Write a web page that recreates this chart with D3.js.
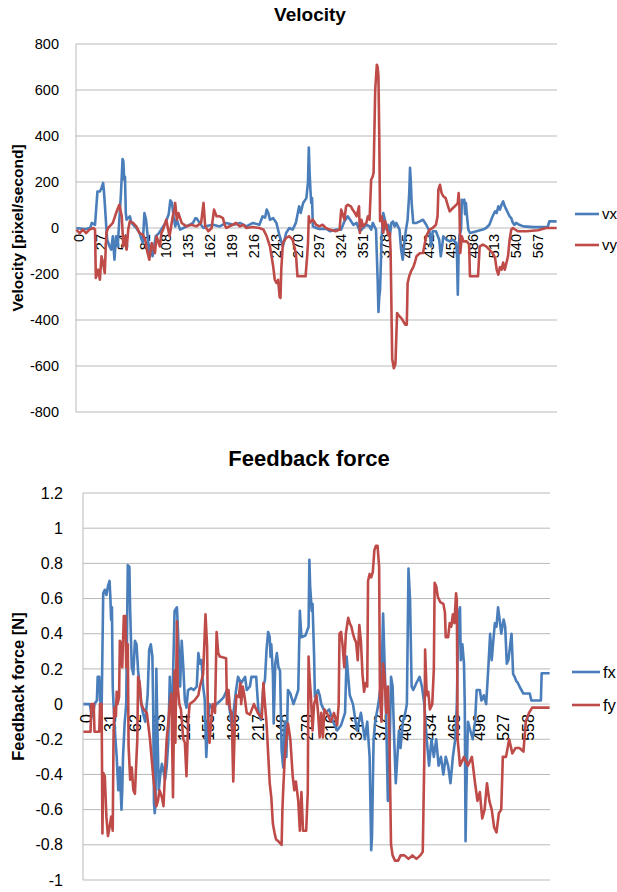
<!DOCTYPE html>
<html>
<head>
<meta charset="utf-8">
<script src="https://cdn.jsdelivr.net/npm/d3@7"></script>
<style>
  html, body { margin: 0; padding: 0; background: #fff; }
  svg { display: block; font-family: "Liberation Sans", Arial, sans-serif; }
</style>
</head>
<body>
<svg id="chart" width="617" height="892"></svg>
<script>
// ---------------- DATA ----------------
// Velocity chart: sample index -> value (pixel/second)
const velocityCount = 594;
const velocityXTicks = d3.range(0, 594, 27);
const velocityYTicks = [-800, -600, -400, -200, 0, 200, 400, 600, 800];
const vx = [[0,0],[10,-5],[17,0],[19,22],[23,14],[26,159],[29,159],[31,174],[33,196],[34,160],[35,109],[37,0],[38,-51],[41,-80],[43,-94],[45,-36],[47,-138],[49,-36],[51,-80],[53,36],[55,150],[57,300],[58,290],[59,210],[60,223],[61,65],[62,36],[66,51],[68,22],[74,0],[78,-22],[82,-65],[84,65],[86,36],[88,-36],[90,-109],[92,-94],[94,-123],[96,-80],[98,-36],[102,-22],[106,0],[110,22],[114,60],[116,120],[118,110],[120,51],[122,7],[124,36],[128,-7],[132,0],[140,15],[144,22],[147,43],[149,40],[152,22],[157,0],[162,10],[169,14],[177,7],[185,22],[194,14],[202,22],[210,7],[218,22],[226,14],[230,51],[233,45],[235,80],[237,65],[239,36],[243,43],[247,22],[251,-36],[255,-80],[259,-22],[263,0],[267,-7],[271,22],[275,94],[277,65],[280,109],[284,130],[286,200],[287,350],[288,240],[289,167],[290,109],[291,130],[292,7],[296,0],[300,-4],[309,-4],[313,-14],[321,-7],[327,-7],[331,29],[335,51],[338,36],[342,14],[346,22],[350,-14],[354,0],[358,14],[362,7],[364,-7],[366,22],[370,-7],[372,-225],[373,-365],[374,-300],[375,-268],[377,-36],[379,65],[381,36],[383,-7],[385,14],[387,-36],[389,22],[391,29],[393,7],[395,22],[399,-7],[401,-94],[403,-138],[405,-65],[407,-7],[409,36],[411,150],[412,262],[413,200],[414,109],[416,22],[420,22],[424,29],[428,36],[432,14],[436,-14],[438,-80],[440,-14],[444,-14],[448,-51],[450,-123],[452,-70],[453,-36],[457,-51],[461,-58],[465,-51],[469,-65],[470,-120],[471,-290],[472,-109],[473,-36],[475,-7],[476,123],[477,109],[479,123],[480,60],[481,109],[482,65],[484,-7],[486,-22],[494,-14],[502,-7],[506,0],[510,14],[514,51],[517,72],[519,65],[521,94],[523,80],[525,101],[527,116],[529,94],[531,80],[533,65],[535,51],[537,43],[539,22],[541,14],[543,22],[547,14],[552,7],[565,4],[582,4],[584,29],[593,29]];
const vy = [[0,-7],[4,-22],[8,-7],[12,-22],[16,-7],[21,0],[23,-7],[24,-217],[27,-181],[29,-225],[31,-123],[33,-152],[35,-196],[37,-22],[39,0],[41,7],[45,22],[49,65],[53,101],[56,51],[58,-80],[60,-36],[62,-94],[64,-7],[66,29],[70,22],[74,7],[78,-22],[82,-29],[85,-51],[87,-94],[90,-138],[93,-65],[97,-109],[99,-36],[103,-80],[105,-22],[107,-7],[111,36],[115,-36],[119,51],[121,80],[122,109],[124,36],[126,65],[130,22],[136,7],[142,14],[148,7],[154,22],[157,109],[159,7],[163,-14],[167,0],[170,80],[173,51],[177,51],[181,43],[183,14],[185,0],[193,14],[197,22],[202,7],[206,14],[210,0],[218,4],[226,0],[231,-7],[235,-36],[239,-80],[243,-167],[245,-225],[247,-239],[249,-225],[251,-300],[252,-304],[253,-181],[255,-65],[259,-43],[263,-36],[267,-51],[271,-109],[273,-210],[283,-210],[285,-120],[286,-65],[287,51],[288,22],[292,36],[296,14],[300,7],[304,14],[308,0],[313,-7],[320,-14],[325,-7],[327,80],[329,58],[331,36],[333,94],[335,101],[339,94],[341,80],[344,65],[346,51],[349,94],[350,-22],[352,36],[354,7],[358,22],[360,51],[362,36],[364,210],[366,225],[367,240],[369,600],[371,710],[372,700],[373,660],[374,400],[375,30],[377,50],[379,-20],[381,30],[383,10],[385,-30],[387,-20],[388,-100],[390,-570],[392,-610],[394,-590],[396,-370],[398,-380],[402,-395],[406,-420],[408,-420],[409,-240],[411,-210],[413,-190],[416,-170],[418,-150],[420,-123],[424,-110],[428,-109],[432,-36],[436,-7],[440,0],[444,14],[446,51],[447,167],[449,188],[451,152],[453,138],[456,130],[459,94],[461,72],[465,87],[469,100],[471,109],[472,152],[473,100],[474,-109],[476,-36],[478,-58],[482,-58],[485,-72],[486,-210],[496,-210],[498,-80],[502,-72],[506,-80],[510,-94],[514,-109],[517,-130],[519,-181],[521,-203],[523,-170],[525,-181],[527,-150],[529,-181],[531,-152],[533,-123],[535,-51],[537,-7],[539,0],[545,-14],[556,-14],[570,-10],[580,0],[593,0]];

// Feedback force chart: sample index -> value (N)
const forceCount = 589;
const forceXTicks = d3.range(0, 589, 31);
const forceYTicks = [-1, -0.8, -0.6, -0.4, -0.2, 0, 0.2, 0.4, 0.6, 0.8, 1, 1.2];
const fx = [[0,0],[8,0],[10,-0.05],[12,-0.07],[14,0],[17,0.02],[18,0.155],[20,0.155],[21,0.02],[23,-0.03],[25,0.63],[27,0.65],[29,0.62],[31,0.67],[33,0.70],[34,0.61],[35,0.48],[36,0.55],[37,0.1],[38,0],[40,-0.17],[42,-0.30],[44,-0.49],[46,-0.36],[48,-0.60],[49,-0.49],[50,-0.30],[52,-0.11],[54,0],[56,0.79],[58,0.78],[59,0.53],[61,0.21],[63,0.17],[65,0.36],[67,0.34],[69,0.19],[71,0.1],[73,0],[75,-0.05],[78,-0.1],[81,0.05],[83,0.31],[85,0.34],[87,0.27],[88,0],[89,-0.56],[90,-0.62],[91,-0.56],[92,0.2],[93,-0.05],[95,-0.49],[97,-0.40],[99,-0.34],[101,-0.38],[103,-0.43],[105,-0.36],[107,-0.22],[109,0.155],[110,0.02],[112,-0.05],[115,0.53],[118,0.55],[120,0.34],[122,0.1],[124,0.36],[126,0.21],[128,0.02],[130,-0.02],[132,0.08],[136,0.09],[139,0.08],[143,0.1],[145,0.29],[147,0.23],[149,0.25],[151,0.1],[153,0.03],[155,-0.30],[157,-0.11],[159,0],[163,-0.03],[168,0],[173,0.02],[177,0.04],[181,0.08],[185,-0.05],[187,-0.13],[189,-0.06],[192,0.06],[195,0.155],[199,0.12],[204,0.155],[206,0.08],[210,0.1],[212,0.155],[218,0.155],[219,0.08],[221,-0.05],[224,-0.09],[227,0.1],[229,0.14],[231,0.31],[233,0.41],[235,0.38],[236,0.27],[237,0.34],[239,0.17],[240,-0.11],[242,0.23],[244,0.29],[246,0.21],[248,0.19],[250,-0.26],[252,-0.36],[254,-0.1],[256,-0.30],[258,0.08],[261,0.06],[265,0.0],[271,0.08],[273,0.53],[275,0.38],[280,0.39],[284,0.44],[285,0.82],[286,0.67],[288,0.53],[289,0.57],[291,0.27],[292,0.04],[294,0.06],[296,0.08],[298,0.05],[300,0.0],[305,-0.05],[310,-0.03],[315,-0.1],[320,-0.15],[325,-0.12],[330,-0.05],[332,0.27],[334,0.155],[336,0.05],[340,0],[345,-0.15],[350,-0.05],[355,-0.2],[358,-0.1],[361,-0.3],[363,-0.83],[364,-0.75],[366,-0.2],[368,-0.1],[372,0],[376,0.14],[378,0.515],[380,0.21],[382,-0.1],[384,-0.55],[386,-0.3],[388,0.155],[390,0.1],[392,-0.2],[394,-0.45],[396,-0.3],[398,-0.15],[400,-0.25],[403,-0.1],[406,-0.05],[408,0.0],[410,0.77],[412,0.59],[414,0.1],[416,0.08],[420,0.12],[424,0.155],[427,0.1],[430,0.0],[433,-0.2],[436,-0.35],[439,-0.2],[442,-0.3],[445,-0.2],[448,-0.35],[451,-0.3],[454,-0.4],[457,-0.3],[460,-0.35],[463,-0.45],[466,-0.3],[469,-0.2],[471,0.0],[473,0.515],[475,0.55],[476,0.25],[478,0.34],[480,0.23],[481,0.0],[482,-0.78],[483,-0.5],[485,-0.1],[488,-0.15],[491,-0.2],[494,-0.1],[496,0.08],[500,0.08],[502,0.02],[505,0.05],[508,0.0],[511,0.23],[513,0.40],[515,0.25],[517,0.36],[519,0.46],[521,0.44],[523,0.55],[525,0.48],[527,0.40],[530,0.48],[532,0.44],[534,0.23],[536,0.25],[540,0.40],[542,0.17],[544,0.155],[546,0.13],[548,0.12],[550,0.1],[555,0.06],[563,0.06],[565,0.02],[577,0.02],[578,0.175],[588,0.175]];
const fy = [[0,-0.157],[9,-0.157],[10,0],[13,0],[14,-0.157],[20,-0.157],[21,0],[23,0],[24,-0.735],[25,-0.39],[27,-0.41],[29,-0.64],[31,-0.75],[33,-0.70],[35,-0.64],[37,-0.72],[38,-0.19],[39,-0.02],[41,-0.07],[42,0.07],[43,0],[45,0.04],[46,0.36],[48,0.34],[49,0.21],[51,0.50],[53,0.50],[54,0.21],[56,0.34],[57,-0.24],[59,-0.43],[61,-0.36],[63,-0.49],[65,-0.51],[67,-0.30],[68,-0.2],[69,0.155],[71,0.12],[73,0],[76,-0.03],[80,-0.05],[84,-0.2],[88,-0.41],[90,-0.49],[92,-0.58],[94,-0.55],[96,-0.49],[99,-0.53],[101,-0.58],[103,-0.39],[105,-0.2],[107,-0.11],[109,0],[111,0.06],[113,-0.53],[115,0.19],[116,-0.22],[118,0.47],[119,0.1],[121,0],[123,-0.03],[126,-0.2],[128,-0.22],[130,-0.41],[132,-0.11],[134,0],[140,0.02],[145,0.05],[147,0.1],[151,0.17],[154,0.51],[156,0.33],[157,-0.05],[159,-0.22],[161,-0.11],[163,0],[166,-0.05],[168,0.41],[170,0.29],[172,0.27],[180,0.26],[181,0.0],[183,0.08],[185,-0.03],[187,-0.05],[189,-0.44],[191,-0.11],[193,0.05],[196,0.04],[198,0.12],[199,0.0],[201,0.1],[203,0.05],[206,-0.05],[210,-0.06],[215,0.0],[220,-0.05],[225,-0.08],[227,0.12],[229,0],[231,-0.11],[233,-0.28],[235,-0.45],[237,-0.53],[239,-0.68],[241,-0.73],[243,-0.77],[246,-0.78],[248,-0.79],[250,-0.80],[251,-0.60],[252,-0.49],[254,-0.3],[256,-0.20],[258,-0.11],[261,-0.2],[264,-0.41],[266,-0.49],[268,-0.44],[271,-0.55],[273,-0.72],[275,-0.50],[277,-0.72],[281,-0.72],[283,-0.5],[284,0.27],[285,0.17],[287,0.04],[289,-0.15],[291,0.0],[294,0.05],[296,-0.05],[298,-0.19],[300,-0.05],[302,-0.19],[304,-0.03],[307,-0.05],[312,-0.1],[316,-0.05],[320,-0.12],[322,0.0],[323,0.40],[325,0.41],[327,0.33],[329,0.21],[331,0.40],[334,0.49],[336,0.46],[338,0.44],[340,0.40],[342,0.37],[344,0.35],[346,0.25],[348,0.45],[350,0.36],[352,0.17],[354,0.07],[356,0.12],[358,0.1],[359,0.70],[361,0.74],[363,0.72],[365,0.75],[367,0.875],[369,0.90],[371,0.90],[373,0.78],[374,0.05],[376,-0.1],[378,0.23],[380,0.15],[382,-0.05],[384,0.1],[386,-0.2],[388,-0.80],[390,-0.86],[393,-0.89],[397,-0.89],[400,-0.86],[405,-0.86],[410,-0.88],[415,-0.86],[420,-0.88],[425,-0.86],[428,-0.84],[430,-0.3],[431,0.31],[433,0.05],[435,0.07],[437,-0.03],[440,0.0],[442,0.2],[443,0.69],[445,0.67],[447,0.61],[450,0.58],[454,0.57],[456,0.52],[457,0.38],[460,0.38],[462,0.46],[464,0.44],[466,0.51],[468,0.46],[470,0.63],[471,0.59],[472,-0.2],[475,-0.35],[480,-0.3],[485,-0.35],[490,-0.3],[494,-0.45],[497,-0.55],[500,-0.5],[503,-0.65],[506,-0.6],[509,-0.45],[512,-0.55],[515,-0.6],[518,-0.7],[521,-0.73],[524,-0.62],[527,-0.6],[529,-0.3],[533,-0.3],[537,-0.2],[541,-0.28],[545,-0.25],[550,-0.25],[555,-0.27],[558,-0.1],[562,-0.05],[566,-0.02],[588,-0.02]];

// ---------------- DRAW ----------------
const BLUE = "#4a7ebb", RED = "#be4b48", GRID = "#b9b9b9";
const svg = d3.select("#chart");

function panel(o) {
  const g = svg.append("g");
  const x = d3.scaleLinear().domain([-0.5, o.count - 0.5]).range([o.left, o.right]);
  const y = d3.scaleLinear().domain([o.yTicks[0], o.yTicks[o.yTicks.length - 1]]).range([o.bottom, o.top]);

  // gridlines
  g.append("g").selectAll("line").data(o.yTicks).join("line")
    .attr("x1", o.left).attr("x2", o.right)
    .attr("y1", d => y(d)).attr("y2", d => y(d))
    .attr("stroke", GRID).attr("stroke-width", 1);
  // vertical axis line
  g.append("line").attr("x1", o.left).attr("x2", o.left).attr("y1", o.top).attr("y2", o.bottom)
    .attr("stroke", GRID).attr("stroke-width", 1);

  // y axis labels
  const ya = g.append("g").attr("transform", `translate(${o.left},0)`)
    .call(d3.axisLeft(y).tickValues(o.yTicks).tickSize(0).tickPadding(o.yPad).tickFormat(d => String(d)));
  ya.select(".domain").remove();
  ya.selectAll("text").attr("font-size", o.tickFont).attr("fill", "#000")
    .attr("font-family", "Liberation Sans, Arial, sans-serif");

  // x axis (category) labels at y = 0
  const xa = g.append("g").attr("transform", `translate(0,${y(0)})`)
    .call(d3.axisBottom(x).tickValues(o.xTicks).tickSize(0).tickFormat(d => String(d)));
  xa.select(".domain").remove();
  xa.selectAll("text")
    .attr("font-size", o.xFont).attr("fill", "#000")
    .attr("font-family", "Liberation Sans, Arial, sans-serif")
    .attr("text-anchor", "end")
    .attr("transform", "rotate(-90)")
    .attr("x", -o.xPad).attr("y", o.xShift).attr("dy", "0.35em");

  // series
  const line = d3.line().x(d => x(d[0])).y(d => y(d[1]));
  o.series.forEach(s => {
    g.append("path").datum(s.data).attr("d", line)
      .attr("fill", "none").attr("stroke", s.color).attr("stroke-width", 2.6)
      .attr("stroke-linejoin", "round");
  });

  // title
  g.append("text").attr("x", o.titleX).attr("y", o.titleY).attr("text-anchor", "middle")
    .attr("font-size", o.titleFont).attr("font-weight", "bold").text(o.title);
  // y axis title
  g.append("text").attr("transform", `translate(${o.yTitleX},${(o.top + o.bottom) / 2}) rotate(-90)`)
    .attr("text-anchor", "middle").attr("font-size", o.yTitleFont).attr("font-weight", "bold").text(o.yTitle);

  // legend
  o.series.forEach((s, i) => {
    const ly = o.legendY[i];
    g.append("line").attr("x1", o.legendX).attr("x2", o.legendX + o.legendLen).attr("y1", ly).attr("y2", ly)
      .attr("stroke", s.color).attr("stroke-width", 2.6);
    g.append("text").attr("x", o.legendX + o.legendLen + 3).attr("y", ly).attr("dy", "0.35em")
      .attr("font-size", o.legendFont).text(s.name);
  });
}

panel({
  count: velocityCount, left: 76, right: 557, top: 44, bottom: 412,
  yTicks: velocityYTicks, xTicks: velocityXTicks,
  tickFont: 14.5, yPad: 17, xFont: 14.5, xPad: 6, xShift: 2,
  series: [{name: "vx", data: vx, color: BLUE}, {name: "vy", data: vy, color: RED}],
  title: "Velocity", titleX: 310, titleY: 21, titleFont: 19,
  yTitle: "Velocity [pixel/second]", yTitleX: 23, yTitleFont: 15.5,
  legendX: 575, legendLen: 24, legendY: [214, 245], legendFont: 15
});

panel({
  count: forceCount, left: 83, right: 550, top: 493, bottom: 880,
  yTicks: forceYTicks, xTicks: forceXTicks,
  tickFont: 16, yPad: 20, xFont: 16, xPad: 10, xShift: 2,
  series: [{name: "fx", data: fx, color: BLUE}, {name: "fy", data: fy, color: RED}],
  title: "Feedback force", titleX: 309, titleY: 466, titleFont: 22,
  yTitle: "Feedback force [N]", yTitleX: 24, yTitleFont: 16.5,
  legendX: 572, legendLen: 28, legendY: [672, 705], legendFont: 16.5
});
</script>
</body>
</html>
